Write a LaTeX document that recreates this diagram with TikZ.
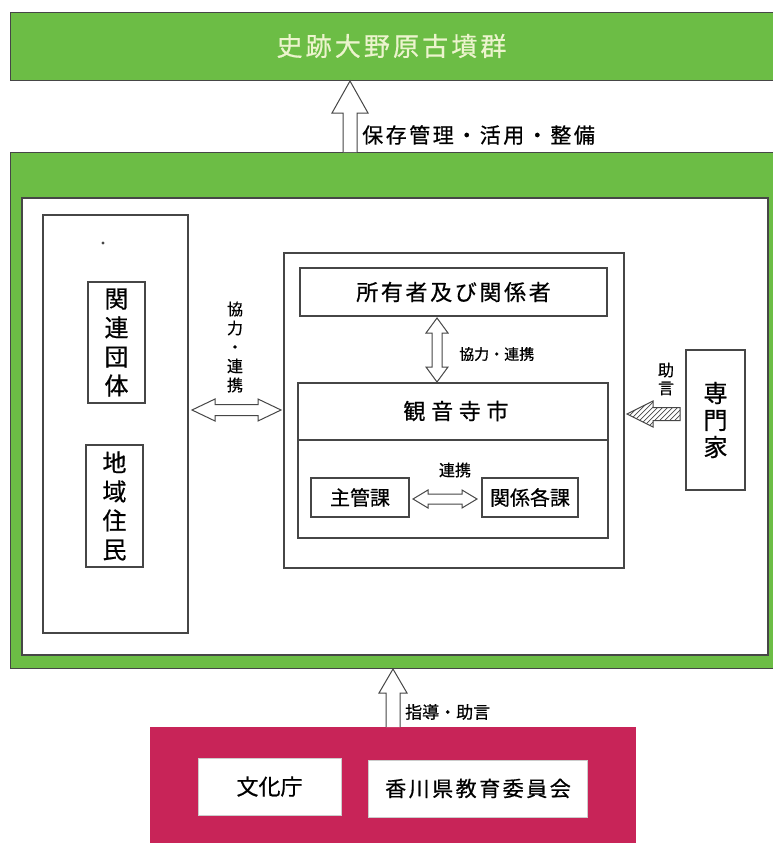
\documentclass[tikz,border=0pt]{standalone}
\usepackage{fontspec}
\setmainfont{Noto Sans CJK JP}[FakeBold=0.6]
\newfontfamily\spA{Noto Sans CJK JP}[LetterSpace=12,FakeBold=0.6]
\newfontfamily\spB{Noto Sans CJK JP}[LetterSpace=26,FakeBold=0.6]
\definecolor{bandgreen}{RGB}{108,189,69}
\definecolor{titlecol}{RGB}{236,244,205}
\definecolor{magentabox}{RGB}{200,36,88}
\definecolor{linecol}{RGB}{70,70,70}
\newcommand\fsz[2]{\fontsize{#1}{#2}\selectfont}
\begin{document}
\begin{tikzpicture}[x=1pt,y=-1pt,
  box/.style={draw=linecol,line width=1.1pt,fill=white,inner sep=0pt,anchor=center},
  greenband/.style={draw=linecol,line width=0.8pt,fill=bandgreen,inner sep=0pt},
  blockarrow/.style={draw=linecol,line width=1pt,fill=white,line join=miter},
  lbl/.style={inner sep=0pt,text=black}]
\useasboundingbox (0,0) rectangle (773,843);
\fill[white] (0,0) rectangle (773,843);
% top band
\node[greenband,minimum width=763,minimum height=68,text=titlecol,font=\spA\fsz{26}{30}] (site) at (391.5,46) {史跡大野原古墳群};
% main green frame
\node[greenband,minimum width=763,minimum height=516] (frame) at (391.5,410) {};
\node[box,minimum width=746,minimum height=457] (inner) at (395,426.5) {};
% left column
\node[box,minimum width=145,minimum height=418] (leftcol) at (115.5,424) {};
\fill[linecol] (103,243) circle (1.6);
\node[box,minimum width=57,minimum height=121,align=center,font=\fsz{24}{29}] (kanren) at (116.5,342.5) {関\\連\\団\\体};
\node[box,minimum width=57,minimum height=122,align=center,font=\fsz{24}{29}] (chiiki) at (114.5,506) {地\\域\\住\\民};
% center
\node[box,minimum width=340,minimum height=315] (center) at (454,410.5) {};
\node[box,minimum width=307,minimum height=48,font=\spA\fsz{22}{26}] (owner) at (453.5,292) {所有者及び関係者};
\node[box,minimum width=310,minimum height=155] (city) at (453,460.5) {};
\draw[linecol,line width=1.1pt] (city.west |- 0,440) -- (city.east |- 0,440);
\node[lbl,font=\spB\fsz{22}{26}] (citylbl) at (456,411) {観音寺市};
\node[box,minimum width=98,minimum height=39,font=\fsz{20}{24}] (shukan) at (360,497.5) {主管課};
\node[box,minimum width=96,minimum height=39,font=\fsz{20}{24}] (kakuka) at (530,497.5) {関係各課};
% expert
\node[box,minimum width=59,minimum height=140,align=center,font=\fsz{24}{27}] (expert) at (715.5,420) {専\\門\\家};
% bottom
\node[draw=magentabox,fill=magentabox,inner sep=0pt,minimum width=485,minimum height=118] (agency) at (392.5,786) {};
\node[box,draw=white!80!black,line width=0.8pt,minimum width=143,minimum height=57,font=\fsz{22}{26}] (bunka) at (269.5,786.5) {文化庁};
\node[box,draw=white!80!black,line width=0.8pt,minimum width=219,minimum height=57,font=\spA\fsz{21}{26}] (kagawa) at (478,788.5) {香川県教育委員会};
% top up arrow frame -> site
\draw[blockarrow] (343,152) -- (343,113) -- (332,113) -- (350,81) -- (368,113) -- (357,113) -- (357,152);
\node[lbl,anchor=west,font=\spA\fsz{21}{25}] (hozon) at (362,135) {保存管理・活用・整備};
% bottom up arrow agency -> frame
\draw[blockarrow] (386,727) -- (386,693) -- (379,693) -- (393,669) -- (407,693) -- (400,693) -- (400,727);
\node[lbl,anchor=west,font=\fsz{17}{20}] (shido) at (405,712) {指導・助言};
% left double arrow leftcol <-> center
\draw[blockarrow] (192,410) -- (215,399) -- (215,404.5) -- (258,404.5) -- (258,399) -- (281,410) -- (258,421) -- (258,415.5) -- (215,415.5) -- (215,421) -- cycle;
\node[lbl,align=center,font=\fsz{16}{19}] (kyoryoku1) at (235,347) {協\\力\\・\\連\\携};
% vertical double arrow owner <-> city
\draw[blockarrow] (437,318) -- (448,333) -- (442,333) -- (442,367) -- (448,367) -- (437,382) -- (426,367) -- (432,367) -- (432,333) -- (426,333) -- cycle;
\node[lbl,anchor=west,font=\fsz{15}{18}] (kyoryoku2) at (459,354) {協力・連携};
% small double arrow shukan <-> kakuka
\draw[blockarrow] (413,499) -- (428,490) -- (428,494) -- (462,494) -- (462,490) -- (477,499) -- (462,508) -- (462,504) -- (428,504) -- (428,508) -- cycle;
\node[lbl,font=\fsz{16}{19}] (renkei) at (455,470) {連携};
% hatched arrow expert -> center
\begin{scope}
\clip (627,414) -- (653,401) -- (653,407.5) -- (680,407.5) -- (680,420.5) -- (653,420.5) -- (653,427) -- cycle;
\foreach \k in {0,...,14} {\draw[linecol,line width=0.7pt] (600+5*\k,440) -- (640+5*\k,400);}
\end{scope}
\draw[linecol,line width=1pt,line join=miter] (627,414) -- (653,401) -- (653,407.5) -- (680,407.5) -- (680,420.5) -- (653,420.5) -- (653,427) -- cycle;
\node[lbl,align=center,font=\fsz{16}{18}] (jogen) at (666,379) {助\\言};
\end{tikzpicture}
\end{document}
